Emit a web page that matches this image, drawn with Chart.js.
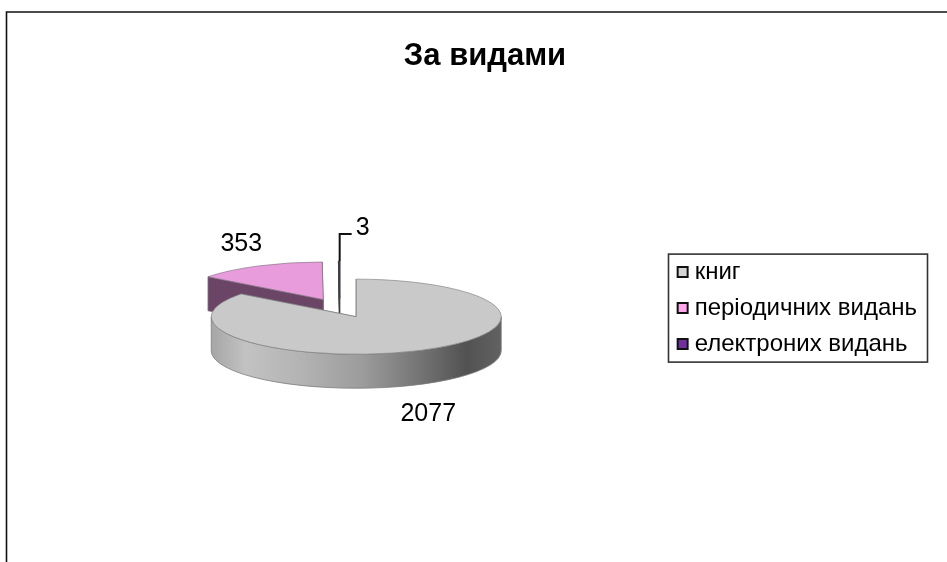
<!DOCTYPE html>
<html>
<head>
<meta charset="utf-8">
<style>html,body{margin:0;padding:0;background:#fff}canvas{display:block;filter:blur(0.45px)}</style>
<script src="https://cdn.jsdelivr.net/npm/chart.js@4"></script>
</head>
<body>
<canvas id="c" width="947" height="562"></canvas>
<script>
const titleText = 'За видами';
const categories = ['книг', 'періодичних видань', 'електроних видань'];
const values = [2077, 353, 3];
const faceColors = ['#c9c9c9', '#e89cdc', '#5a4a6a'];
const faceBorders = ['#7c7c7c', '#807080', '#3c3c44'];
const swatchColors = ['#d4d4d4', '#ffa6ec', '#7030a0'];
const wallColors = ['#999999', '#6a4566', '#3c3c44'];
const wallStops = [[0, '#a6a6a6'], [0.12, '#c2c2c2'], [0.3, '#b4b4b4'], [0.52, '#9c9c9c'], [0.72, '#747474'], [0.88, '#525252'], [1, '#626262']];
const labelOffsets = [[72, 97], [-82, -55], [23, -70]];
const borderWidths = [1, 1, 1.4];

const TILT = 0.259, DEPTH = 34, EXPLODE = 37;
const FONT = '"Liberation Sans", Arial, sans-serif';

function explodedCentre(arc) {
  const mid = (arc.startAngle + arc.endAngle) / 2;
  return { x: arc.x + Math.cos(mid) * EXPLODE, y: arc.y + Math.sin(mid) * EXPLODE * TILT };
}

function drawWalls(ctx, arc, i, c) {
  const r = arc.outerRadius, ry = r * TILT;
  ctx.save();
  ctx.lineWidth = 0.8;
  ctx.strokeStyle = faceBorders[i];
  ctx.fillStyle = wallColors[i];
  [arc.endAngle, arc.startAngle].forEach(a => {
    const px = c.x + Math.cos(a) * r, py = c.y + Math.sin(a) * ry;
    ctx.beginPath();
    ctx.moveTo(c.x, c.y);
    ctx.lineTo(px, py);
    ctx.lineTo(px, py + DEPTH);
    ctx.lineTo(c.x, c.y + DEPTH);
    ctx.closePath();
    ctx.fill();
    ctx.stroke();
  });
  const lo = Math.max(arc.startAngle, 0), hi = Math.min(arc.endAngle, Math.PI);
  if (hi > lo) {
    const g = ctx.createLinearGradient(c.x - r, 0, c.x + r, 0);
    wallStops.forEach(s => g.addColorStop(s[0], s[1]));
    ctx.fillStyle = g;
    ctx.beginPath();
    ctx.ellipse(c.x, c.y, r, ry, 0, lo, hi);
    ctx.ellipse(c.x, c.y + DEPTH, r, ry, 0, hi, lo, true);
    ctx.closePath();
    ctx.fill();
    ctx.stroke();
  }
  ctx.restore();
}

const pie3d = {
  id: 'pie3d',
  beforeDraw(chart) {
    const ctx = chart.ctx;
    ctx.save();
    ctx.strokeStyle = '#111';
    ctx.lineWidth = 1.6;
    ctx.beginPath();
    ctx.moveTo(6.5, 562);
    ctx.lineTo(6.5, 12);
    ctx.lineTo(947, 12);
    ctx.stroke();
    ctx.restore();
  },
  afterLayout(chart) {
    const t = chart.titleBlock;
    t.left = 0; t.right = 970;
  },
  beforeDatasetDraw(chart) {
    const ctx = chart.ctx;
    const arcs = chart.getDatasetMeta(0).data;
    [1, 2, 0].forEach(i => {
      const arc = arcs[i], c = explodedCentre(arc);
      drawWalls(ctx, arc, i, c);
      ctx.save();
      ctx.translate(c.x, c.y);
      ctx.scale(1, TILT);
      ctx.translate(-arc.x, -arc.y);
      arc.draw(ctx);
      ctx.restore();
    });
    return false;
  },
  afterDatasetsDraw(chart) {
    const ctx = chart.ctx;
    const arcs = chart.getDatasetMeta(0).data;
    ctx.save();
    const c3 = explodedCentre(arcs[2]);
    const tipY = c3.y - arcs[2].outerRadius * TILT;
    ctx.strokeStyle = '#111';
    ctx.lineWidth = 2;
    ctx.beginPath();
    ctx.moveTo(c3.x, tipY);
    ctx.lineTo(c3.x, tipY - 27);
    ctx.lineTo(c3.x + 12, tipY - 27);
    ctx.stroke();
    ctx.fillStyle = '#000';
    ctx.font = '25px ' + FONT;
    ctx.textAlign = 'center';
    ctx.textBaseline = 'middle';
    arcs.forEach((arc, i) => {
      const c = explodedCentre(arc);
      ctx.fillText(String(values[i]), c.x + labelOffsets[i][0], c.y + labelOffsets[i][1]);
    });
    ctx.restore();
  },
  afterDraw(chart) {
    const ctx = chart.ctx, hb = chart.legend.legendHitBoxes;
    const last = hb[hb.length - 1];
    ctx.save();
    ctx.strokeStyle = '#333';
    ctx.lineWidth = 1.6;
    const top = hb[0].top - 6;
    ctx.strokeRect(668.5, top, 259, last.top + last.height + 6 - top);
    ctx.restore();
  }
};

new Chart(document.getElementById('c'), {
  type: 'pie',
  plugins: [pie3d],
  data: {
    labels: categories,
    datasets: [{
      data: values,
      backgroundColor: faceColors,
      borderColor: faceBorders,
      borderWidth: borderWidths,
      radius: 145
    }]
  },
  options: {
    responsive: false,
    animation: false,
    devicePixelRatio: 1,
    layout: { padding: { left: 9, right: 20, top: 0, bottom: 45 } },
    plugins: {
      tooltip: { enabled: false },
      title: {
        display: true,
        text: titleText,
        color: '#000',
        font: { family: FONT, size: 31, weight: 'bold' },
        padding: { top: 38, bottom: 24 }
      },
      legend: {
        display: true,
        position: 'right',
        fullSize: false,
        labels: {
          color: '#000',
          font: { family: FONT, size: 24 },
          usePointStyle: true,
          boxWidth: 0.01,
          boxHeight: 10,
          padding: 12,
          generateLabels: () => categories.map((name, i) => ({
            text: name,
            fillStyle: swatchColors[i],
            strokeStyle: '#111',
            lineWidth: 2,
            pointStyle: 'rect',
            hidden: false,
            index: i
          }))
        }
      }
    }
  }
});
</script>
</body>
</html>
